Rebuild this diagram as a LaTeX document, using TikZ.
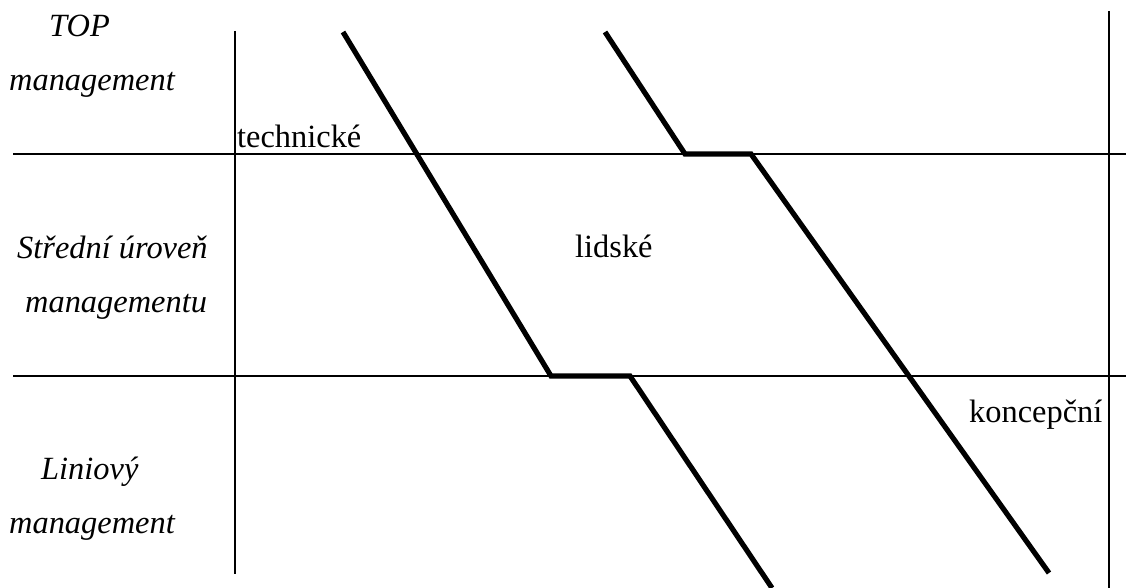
\documentclass[tikz,border=0pt]{standalone}
\usepackage{fontspec}
\setmainfont{Liberation Serif}
\begin{document}
\begin{tikzpicture}[x=1pt,y=-1pt,
  thinline/.style={line width=1.8pt},
  thickline/.style={line width=5.2pt},
  lbl/.style={anchor=base west,inner sep=0pt,font=\fontsize{32.4}{36}\selectfont},
  ilbl/.style={lbl,font=\fontsize{32.4}{36}\selectfont\itshape}]
\useasboundingbox (0,0) rectangle (1126,588);
% grid lines
\coordinate (v1t) at (235,31);
\coordinate (v1b) at (235,574);
\coordinate (v2t) at (1109,11);
\coordinate (v2b) at (1109,588);
\coordinate (h1l) at (13,154);
\coordinate (h1r) at (1126,154);
\coordinate (h2l) at (13,376);
\coordinate (h2r) at (1126,376);
\draw[thinline] (v1t) -- (v1b);
\draw[thinline] (v2t) -- (v2b);
\draw[thinline] (h1l) -- (h1r);
\draw[thinline] (h2l) -- (h2r);
% thick lines
\coordinate (a1) at (343,32);
\coordinate (a2) at (551,376);
\coordinate (a3) at (630,376);
\coordinate (a4) at (772,588);
\coordinate (b1) at (605,32);
\coordinate (b2) at (685,154);
\coordinate (b3) at (751,154);
\coordinate (b4) at (1049,573);
\draw[thickline] (a1) -- (a2) -- (a3) -- (a4);
\draw[thickline] (b1) -- (b2) -- (b3) -- (b4);
% labels
\node[ilbl] (top) at (49,37) {TOP};
\node[ilbl] (topm) at (9,91) {management};
\node[lbl] (tech) at (237,148) {technické};
\node[ilbl] (str) at (17,258) {Střední úroveň};
\node[ilbl] (strm) at (25,312) {managementu};
\node[lbl] (lid) at (575,257) {lidské};
\node[lbl] (kon) at (969,422) {koncepční};
\node[ilbl] (lin) at (41,479) {Liniový};
\node[ilbl] (linm) at (9,533) {management};
\end{tikzpicture}
\end{document}
